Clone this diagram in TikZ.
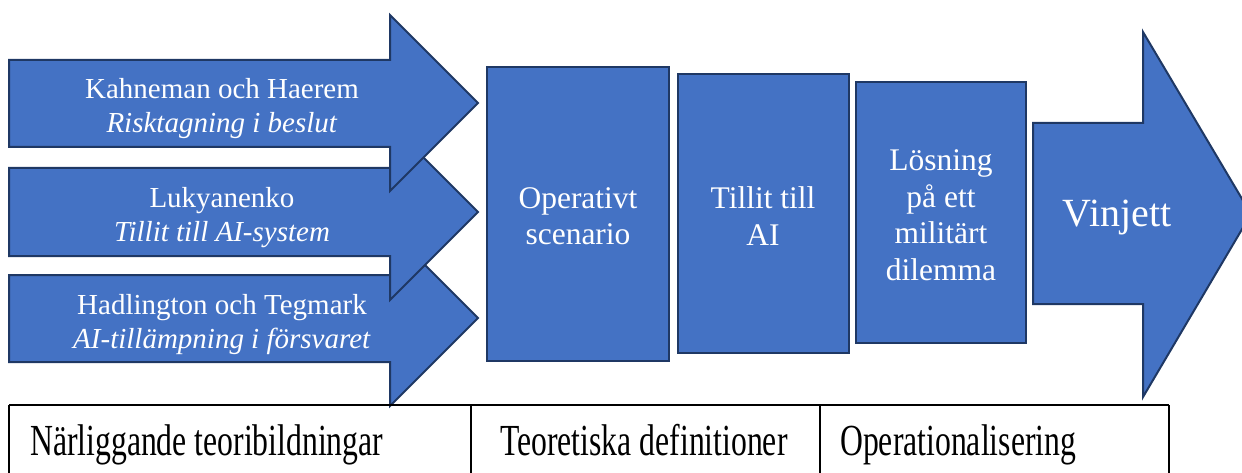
\documentclass[tikz,border=0pt]{standalone}
\usepackage{fontspec}
\setmainfont{Liberation Serif}
\definecolor{fillblue}{HTML}{4472C4}
\definecolor{edgeblue}{HTML}{1F3864}
\begin{document}
\begin{tikzpicture}[x=1pt,y=-1pt,
  shapestyle/.style={fill=fillblue, draw=edgeblue, line width=2pt, line join=miter},
  arrowtext/.style={text=white, align=center, font=\fontsize{29}{34}\selectfont, inner sep=0pt},
  boxtext/.style={text=white, align=center, font=\fontsize{31.5}{36.5}\selectfont, inner sep=0pt},
  tabletext/.style={anchor=base west, inner sep=0pt, font=\fontsize{31.7}{36}\selectfont},
  tableline/.style={line width=1.5pt, draw=black}]
\useasboundingbox (0,0) rectangle (1242,473);
\clip (0,0) rectangle (1242,473);
% left arrows (bottom first so upper ones overlap)
\draw[shapestyle] (9,275) -- (390,275) -- (390,230) -- (478,318) -- (390,406) -- (390,362) -- (9,362) -- cycle;
\draw[shapestyle] (9,168) -- (390,168) -- (390,124) -- (478,212) -- (390,300) -- (390,256) -- (9,256) -- cycle;
\draw[shapestyle] (9,60) -- (390,60) -- (390,15) -- (478,103) -- (390,191) -- (390,147) -- (9,147) -- cycle;
\node[arrowtext] (a1) at (222,109) {Kahneman och Haerem\\\textit{Risktagning i beslut}};
\node[arrowtext] (a2) at (222,218) {Lukyanenko\\\textit{Tillit till AI-system}};
\node[arrowtext] (a3) at (222,325) {Hadlington och Tegmark\\\textit{AI-tillämpning i försvaret}};
% boxes
\draw[shapestyle] (487,67) rectangle (669,361);
\draw[shapestyle] (678,74) rectangle (849,353);
\draw[shapestyle] (856,82) rectangle (1026,343);
\node[boxtext] (b1) at (578,216) {Operativt\\scenario};
\node[boxtext] (b2) at (763,216) {Tillit till\\AI};
\node[boxtext] (b3) at (941,215) {Lösning\\på ett\\militärt\\dilemma};
% big arrow
\draw[shapestyle] (1033,123) -- (1143,123) -- (1143,32) -- (1251,214) -- (1143,397) -- (1143,304) -- (1033,304) -- cycle;
\node[text=white, inner sep=0pt, font=\fontsize{40}{46}\selectfont] (v) at (1117,218) {Vinjett};
% table
\draw[tableline] (9,405) -- (1169,405);
\draw[tableline] (9,405) -- (9,480);
\draw[line width=2pt] (471,405) -- (471,480);
\draw[line width=2pt] (820,405) -- (820,480);
\draw[tableline, line width=1.2pt] (1169,405) -- (1169,480);
\node[tabletext] (t1) at (30,455) {\scalebox{1}[1.4]{Närliggande teoribildningar}};
\node[tabletext] (t2) at (500,455) {\scalebox{1}[1.4]{Teoretiska definitioner}};
\node[tabletext] (t3) at (840,455) {\scalebox{1}[1.4]{Operationalisering}};
\end{tikzpicture}
\end{document}
